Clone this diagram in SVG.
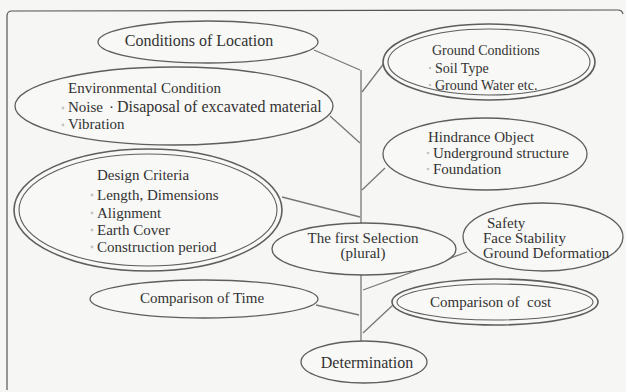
<svg xmlns="http://www.w3.org/2000/svg" width="626" height="392" viewBox="0 0 626 392">
<style>
.bg{fill:#f6f6f4}
.n{fill:#f8f8f6;stroke:#5e5e5e;stroke-width:1.3}
.d{fill:none;stroke:#5e5e5e;stroke-width:1.1}
.c{fill:none;stroke:#777;stroke-width:1.3}
text{font-family:"Liberation Serif","Times New Roman",serif;font-size:15px;fill:#333}
.m{text-anchor:middle}
.b{fill:#c4c4c4}
</style>
<rect class="bg" x="0" y="0" width="626" height="392"/>
<path d="M7,390 L7,16 Q7,11 12,11 L618,10 Q622,10 623,14" fill="none" stroke="#555" stroke-width="1.2"/>
<g id="connectors">
<line class="c" x1="314" y1="50" x2="360" y2="70"/>
<line class="c" x1="330" y1="116" x2="360" y2="143"/>
<line class="c" x1="282" y1="197" x2="360" y2="217"/>
<line class="c" x1="361" y1="70" x2="361" y2="223"/>
<line class="c" x1="361" y1="275" x2="361" y2="342"/>
<line class="c" x1="362" y1="92" x2="385" y2="62"/>
<line class="c" x1="362" y1="190" x2="385" y2="168"/>
<line class="c" x1="467" y1="252" x2="363" y2="290"/>
<line class="c" x1="316" y1="305" x2="359" y2="315"/>
<line class="c" x1="363" y1="333" x2="393" y2="305"/>
</g>
<g id="location">
<ellipse class="n" cx="208" cy="42" rx="110" ry="21"/>
<text class="m" x="199" y="46" style="font-size:16px">Conditions of Location</text>
</g>
<g id="environment">
<ellipse class="n" cx="174" cy="106" rx="159" ry="39"/>
<text x="68" y="93">Environmental Condition</text>
<circle class="b" cx="63" cy="108" r="1.4"/>
<text x="68" y="112">Noise</text>
<text x="109" y="112">·</text>
<text x="117" y="112" style="font-size:16px">Disaposal of excavated material</text>
<circle class="b" cx="63" cy="125" r="1.4"/>
<text x="68" y="129">Vibration</text>
</g>
<g id="design">
<ellipse class="n" cx="148" cy="210" rx="134" ry="61" style="stroke-width:1.6"/>
<ellipse class="d" cx="148" cy="210" rx="129" ry="56"/>
<text x="97" y="180">Design Criteria</text>
<circle class="b" cx="92" cy="195" r="1.4"/>
<text x="97" y="200">Length, Dimensions</text>
<circle class="b" cx="92" cy="213" r="1.4"/>
<text x="97" y="218">Alignment</text>
<circle class="b" cx="92" cy="230" r="1.4"/>
<text x="97" y="235">Earth Cover</text>
<circle class="b" cx="92" cy="247" r="1.4"/>
<text x="97" y="252">Construction period</text>
</g>
<g id="ground">
<ellipse class="n" cx="489" cy="62" rx="106" ry="38" style="stroke-width:1.6"/>
<ellipse class="d" cx="489" cy="62" rx="101" ry="33"/>
<text x="432" y="55" style="font-size:14px">Ground Conditions</text>
<circle class="b" cx="430" cy="68" r="1.3"/>
<text x="435" y="73" style="font-size:14px">Soil Type</text>
<circle class="b" cx="430" cy="85" r="1.3"/>
<text x="435" y="90" style="font-size:14px">Ground Water etc.</text>
</g>
<g id="hindrance">
<ellipse class="n" cx="485" cy="154" rx="102" ry="36"/>
<text x="428" y="142">Hindrance Object</text>
<circle class="b" cx="428" cy="153" r="1.3"/>
<text x="433" y="158">Underground structure</text>
<circle class="b" cx="428" cy="169" r="1.3"/>
<text x="433" y="174">Foundation</text>
</g>
<g id="first-selection">
<ellipse class="n" cx="364" cy="249" rx="92" ry="26"/>
<text class="m" x="363" y="243">The first Selection</text>
<text class="m" x="363" y="258">(plural)</text>
</g>
<g id="safety">
<ellipse class="n" cx="543" cy="237" rx="80" ry="34"/>
<text x="487" y="228">Safety</text>
<text x="483" y="243">Face Stability</text>
<text x="483" y="258">Ground Deformation</text>
</g>
<g id="time">
<ellipse class="n" cx="204" cy="299" rx="114" ry="19"/>
<text class="m" x="202" y="303">Comparison of Time</text>
</g>
<g id="cost">
<ellipse class="n" cx="495" cy="302" rx="103" ry="23" style="stroke-width:1.6"/>
<ellipse class="d" cx="495" cy="302" rx="98" ry="18"/>
<text x="430" y="307" xml:space="preserve">Comparison of  cost</text>
</g>
<g id="determination">
<ellipse class="n" cx="364" cy="362" rx="63" ry="21"/>
<text class="m" x="367" y="368" style="font-size:16px">Determination</text>
</g>
</svg>
